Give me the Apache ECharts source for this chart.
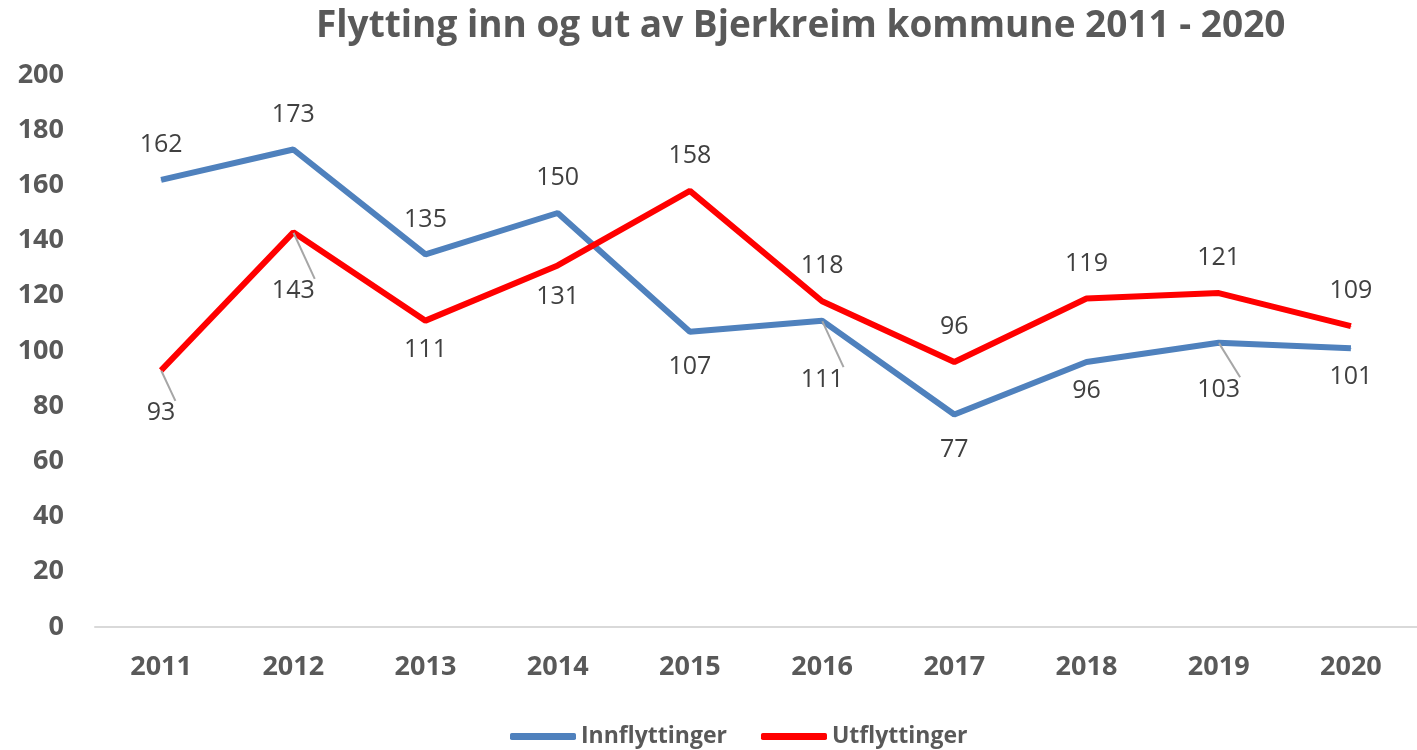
<!DOCTYPE html>
<html>
<head>
<meta charset="utf-8">
<script src="https://cdn.jsdelivr.net/npm/echarts@6/dist/echarts.min.js"></script>
<style>
  html, body { margin: 0; padding: 0; background: #fff; }
  #chart { width: 1417px; height: 750px; }
</style>
</head>
<body>
<div id="chart"></div>
<script>
// data
const years = ['2011', '2012', '2013', '2014', '2015', '2016', '2017', '2018', '2019', '2020'];
const innflyttinger = [162, 173, 135, 150, 107, 111, 77, 96, 103, 101];
const utflyttinger = [93, 143, 111, 131, 158, 118, 96, 119, 121, 109];
const yTicks = [0, 20, 40, 60, 80, 100, 120, 140, 160, 180, 200];

// label placement (Excel style: some below with a leader line)
const innPos = ['top', 'top', 'top', 'top', 'bottom', 'lead', 'bottom', 'bottom', 'lead', 'bottom'];
const utPos = ['lead', 'lead', 'bottom', 'bottom', 'top', 'top', 'top', 'top', 'top', 'top'];
// label gap from the point, px
const innGap = [22, 22, 22, 22, 22, 46, 22, 16, 34, 16];
const utGap = [30, 46, 16, 18, 22, 22, 22, 22, 22, 22];

const FONT = '"Open Sans", "Noto Sans", sans-serif';

function buildData(values, pos, gap) {
  return values.map((v, i) => {
    const p = pos[i];
    if (p === 'lead') {
      return {
        value: v,
        label: { position: 'bottom', distance: gap[i] },
        labelLine: { show: true, length2: 0 }
      };
    }
    return { value: v, label: { position: p, distance: gap[i] } };
  });
}

const chart = echarts.init(document.getElementById('chart'), null, { renderer: 'canvas' });

chart.setOption({
  animation: false,
  title: {
    text: 'Flytting inn og ut av Bjerkreim kommune 2011 - 2020',
    left: 311,
    top: 3,
    textStyle: { fontFamily: FONT, fontSize: 37, fontWeight: 'bold', color: '#595959' }
  },
  legend: {
    top: 720,
    left: 505,
    itemWidth: 66,
    itemHeight: 7,
    itemGap: 34,
    icon: 'roundRect',
    textStyle: { fontFamily: FONT, fontSize: 23, fontWeight: 'bold', color: '#595959' },
    data: ['Innflyttinger', 'Utflyttinger']
  },
  grid: { left: 95, top: 75, width: 1338, height: 552, containLabel: false },
  xAxis: {
    type: 'category',
    data: years,
    boundaryGap: true,
    axisLine: { lineStyle: { color: '#D9D9D9', width: 2 } },
    axisTick: { show: false },
    axisLabel: { fontFamily: FONT, fontSize: 27, fontWeight: 'bold', color: '#595959', margin: 27 }
  },
  yAxis: {
    type: 'value',
    min: yTicks[0],
    max: yTicks[yTicks.length - 1],
    interval: yTicks[1] - yTicks[0],
    splitLine: { show: false },
    axisLine: { show: false },
    axisTick: { show: false },
    axisLabel: { fontFamily: FONT, fontSize: 27, fontWeight: 'bold', color: '#595959', margin: 31 }
  },
  series: [
    {
      name: 'Innflyttinger',
      type: 'line',
      data: buildData(innflyttinger, innPos, innGap),
      showSymbol: true,
      symbol: 'circle',
      symbolSize: 1,
      lineStyle: { color: '#4F81BD', width: 6 },
      itemStyle: { color: '#4F81BD' },
      label: { show: true, fontFamily: FONT, fontSize: 25, color: '#404040' },
      labelLine: { lineStyle: { color: '#A6A6A6', width: 2 } }
    },
    {
      name: 'Utflyttinger',
      type: 'line',
      data: buildData(utflyttinger, utPos, utGap),
      showSymbol: true,
      symbol: 'circle',
      symbolSize: 1,
      lineStyle: { color: '#FF0000', width: 6 },
      itemStyle: { color: '#FF0000' },
      label: { show: true, fontFamily: FONT, fontSize: 25, color: '#404040' },
      labelLine: { lineStyle: { color: '#A6A6A6', width: 2 } }
    }
  ]
});
</script>
</body>
</html>
